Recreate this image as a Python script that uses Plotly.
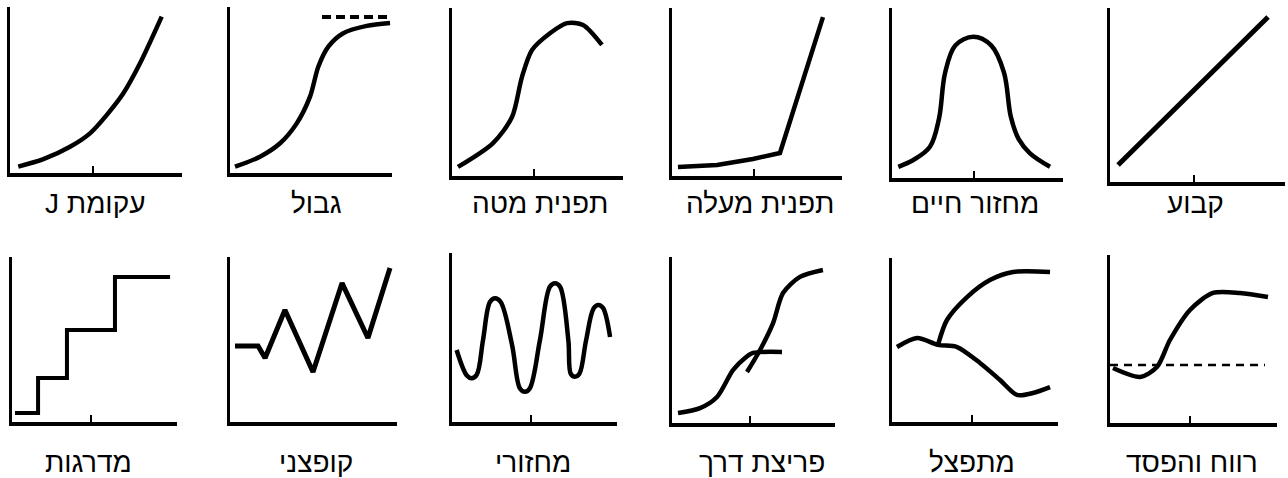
import plotly.graph_objects as go

W, H = 1288, 478

# ---- curve data, each panel uses a 0..10 x 0..10 space ----
# row 1
j_x = [0.48, 1.94, 3.49, 4.65, 5.62, 6.59, 7.56, 8.82]
j_y = [0.38, 0.83, 1.58, 2.39, 3.49, 4.8, 6.61, 9.42]

limit_x = [0.31, 1.85, 3.09, 4.12, 4.94, 5.45, 6.07, 6.99, 8.44, 9.88]
limit_y = [0.38, 0.98, 1.79, 2.99, 4.6, 6.4, 7.61, 8.42, 8.86, 9.04]
limit_cap_x = [5.68, 10.0]
limit_cap_y = [9.4, 9.4]

top_x = [0.35, 2.4, 3.51, 4.09, 4.68, 5.73, 6.73, 7.66, 8.77]
top_y = [0.54, 1.96, 3.51, 5.89, 7.5, 8.5, 9.1, 8.99, 7.8]

up_x = [0.35, 2.65, 4.76, 6.35, 8.88]
up_y = [0.54, 0.65, 1.01, 1.37, 9.46]

life_x = [0.37, 1.25, 2.22, 2.75, 3.1, 3.7, 4.75, 5.8, 6.55, 6.95, 7.4, 8.07, 9.24]
life_y = [0.66, 1.06, 1.84, 3.5, 6.16, 7.8, 8.31, 7.8, 6.2, 3.6, 2.3, 1.45, 0.66]

const_x = [0.46, 9.03]
const_y = [0.98, 9.48]

# row 2
steps_x = [0.18, 1.58, 3.33, 6.24, 9.58]
steps_y = [0.55, 2.67, 5.58, 8.79, 8.79]

jump_x = [0.3, 1.68, 2.1, 3.29, 4.97, 6.71, 8.26, 9.58]
jump_y = [4.61, 4.61, 3.88, 6.79, 3.03, 8.42, 5.09, 9.33]

cyc_x = [0.28, 0.9, 1.19, 1.5, 1.88, 2.3, 2.61, 2.95, 3.64, 4.12, 4.42, 4.72,
         5.33, 5.93, 6.24, 6.55, 7.05, 7.2, 7.45, 7.72, 8.12, 8.58, 8.87, 9.15, 9.58]
cyc_y = [4.26, 2.75, 2.59, 2.8, 4.85, 7.1, 7.32, 7.1, 4.56, 1.98, 1.79, 2.0,
         4.85, 8.0, 8.21, 8.0, 4.85, 2.85, 2.68, 2.85, 4.8, 6.72, 6.92, 6.75, 5.03]

brk_a_x = [0.37, 1.72, 2.76, 3.74, 4.48, 4.97, 6.75]
brk_a_y = [0.6, 0.9, 1.57, 3.19, 3.92, 4.22, 4.28]
brk_b_x = [4.6, 5.4, 6.2, 6.81, 7.85, 9.26]
brk_b_y = [3.07, 4.4, 6.02, 7.83, 8.8, 9.22]

div_low_x = [0.3, 1.51, 2.77, 3.92, 5.3, 6.51, 7.53, 8.49, 9.52]
div_low_y = [4.57, 5.12, 4.7, 4.57, 3.6, 2.56, 1.65, 1.77, 2.13]
div_up_x = [2.77, 3.31, 4.52, 5.9, 7.29, 9.52]
div_up_y = [4.7, 6.22, 7.62, 8.66, 9.15, 9.15]

pl_x = [0.18, 1.8, 2.81, 3.59, 4.79, 6.17, 7.78, 9.46]
pl_y = [3.27, 2.74, 3.33, 4.94, 6.73, 7.74, 7.74, 7.5]
pl_base_x = [0.0, 9.28]
pl_base_y = [3.45, 3.45]

labels_row1 = ["\u2067עקומת J\u2069", "גבול", "תפנית מטה", "תפנית מעלה", "מחזור חיים", "קבוע"]
labels_row2 = ["מדרגות", "קופצני", "מחזורי", "פריצת דרך", "מתפצל", "רווח והפסד"]

# panel boxes in pixels: left, right, top, bottom
boxes = [
    (10, 182, 7, 173), (230, 392, 7, 173), (452, 623, 8, 176),
    (672, 842, 8, 176), (892, 1063, 8, 178), (1110, 1285, 8, 182),
    (12, 177, 257, 422), (230, 397, 257, 422), (452, 617, 253, 422),
    (672, 835, 257, 423), (892, 1058, 258, 422), (1110, 1277, 255, 423),
]
has_tick = [True, False, True, True, True, True,
            True, False, True, True, True, True]
label_cx = [95, 316, 540, 760, 975, 1195, 88, 316, 533, 762, 972, 1192]
label_cy = [203] * 6 + [462] * 6

fig = go.Figure()

def curve(panel, x, y, shape="spline", width=4.5, dash="solid", smooth=0.8):
    s = "" if panel == 1 else str(panel)
    fig.add_trace(go.Scatter(
        x=x, y=y, mode="lines", xaxis="x" + s, yaxis="y" + s,
        line=dict(color="black", width=width, shape=shape, dash=dash, smoothing=smooth),
        cliponaxis=False, hoverinfo="skip", showlegend=False))

curve(1, j_x, j_y)
curve(2, limit_x, limit_y)
curve(2, limit_cap_x, limit_cap_y, shape="linear", width=4, dash="9px,5px")
curve(3, top_x, top_y)
curve(4, up_x, up_y, shape="linear")
curve(5, life_x, life_y, smooth=1.0)
curve(6, const_x, const_y, shape="linear", width=5)
curve(7, steps_x, steps_y, shape="hv", width=4)
curve(8, jump_x, jump_y, shape="linear", width=5)
curve(9, cyc_x, cyc_y, smooth=1.0)
curve(10, brk_a_x, brk_a_y)
curve(10, brk_b_x, brk_b_y)
curve(11, div_low_x, div_low_y)
curve(11, div_up_x, div_up_y)
curve(12, pl_x, pl_y)
curve(12, pl_base_x, pl_base_y, shape="linear", width=2.5, dash="8px,6px")

layout = {}
for i, (l, r, t, b) in enumerate(boxes):
    s = "" if i == 0 else str(i + 1)
    layout["xaxis" + s] = dict(
        domain=[l / W, r / W], range=[0, 10], anchor="y" + s,
        showline=True, linecolor="black", linewidth=4, mirror=False,
        showgrid=False, zeroline=False, showticklabels=False,
        tickvals=[4.8] if has_tick[i] else [], ticks="inside",
        ticklen=7, tickwidth=2, tickcolor="black", fixedrange=True)
    layout["yaxis" + s] = dict(
        domain=[1 - b / H, 1 - t / H], range=[0, 10], anchor="x" + s,
        showline=True, linecolor="black", linewidth=3, mirror=False,
        showgrid=False, zeroline=False, showticklabels=False,
        ticks="", fixedrange=True)

annotations = []
for i, txt in enumerate(labels_row1 + labels_row2):
    annotations.append(dict(
        text=txt, x=label_cx[i] / W, y=1 - label_cy[i] / H,
        xref="paper", yref="paper", xanchor="center", yanchor="middle",
        showarrow=False,
        font=dict(size=28, color="black", family="Liberation Sans, DejaVu Sans, Arial")))

fig.update_layout(
    **layout,
    annotations=annotations,
    width=W, height=H,
    margin=dict(l=0, r=0, t=0, b=0),
    plot_bgcolor="white",
    paper_bgcolor="white",
    showlegend=False,
)

fig.write_html("out.html", config={"displayModeBar": False},
               post_script="document.body.style.margin='0px';")
